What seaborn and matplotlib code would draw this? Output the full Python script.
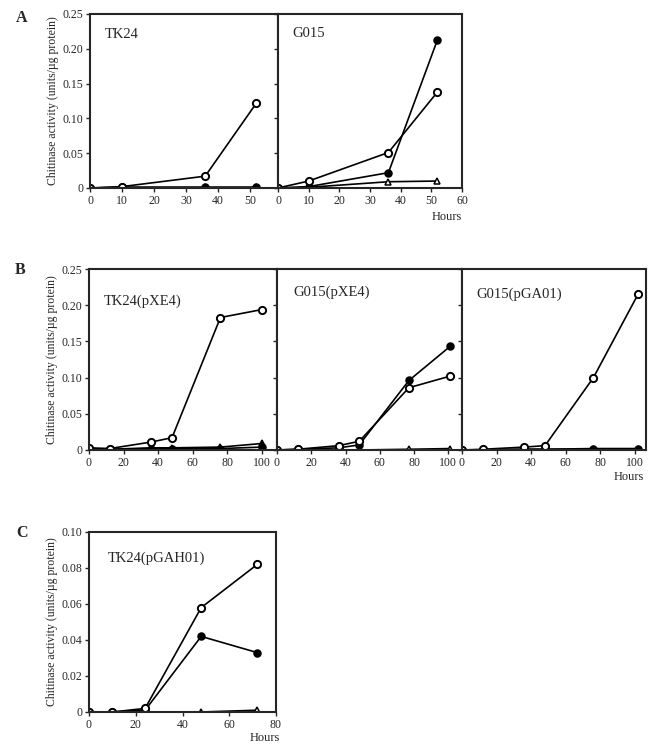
import pandas as pd
import seaborn as sns
from matplotlib import pyplot as plt
from matplotlib.ticker import FuncFormatter

# panel A
hours_a = [0, 10, 36, 52]
tk24_open = [0, 0.002, 0.017, 0.122]
tk24_filled = [0, 0.001, 0.001, 0.001]
tk24_tri = [0, 0.001, 0.001, 0.001]
g015_open = [0, 0.010, 0.051, 0.138]
g015_filled = [0, 0.002, 0.022, 0.213]
g015_tri = [0, 0.001, 0.009, 0.010]

# panel B
hours_b = [0, 12, 36, 48, 76, 100]
tk24x_open = [0.003, 0.002, 0.011, 0.017, 0.183, 0.194]
tk24x_filled = [0.001, 0.001, 0.002, 0.002, 0.002, 0.004]
tk24x_tri = [0.002, 0.001, 0.003, 0.003, 0.004, 0.009]
hours_b2 = [0, 12, 36, 48, 77, 101]
g015x_open = [0, 0.001, 0.006, 0.012, 0.086, 0.102]
g015x_filled = [0, 0.001, 0.003, 0.007, 0.096, 0.143]
g015x_tri = [0, 0, 0, 0, 0.001, 0.002]
hours_b3 = [0, 12, 36, 48, 76, 102]
g015ga_open = [0, 0.001, 0.004, 0.006, 0.100, 0.216]
g015ga_filled = [0, 0, 0.001, 0.001, 0.001, 0.001]
g015ga_tri = [0, 0, 0.001, 0.001, 0.002, 0.002]

# panel C
hours_c = [0, 10, 24, 48, 72]
tk24g_open = [0, 0, 0.002, 0.058, 0.082]
tk24g_filled = [0, 0, 0.001, 0.042, 0.033]
tk24g_tri = [0, 0, 0, 0, 0.001]

sns.set_style('ticks')
plt.rcParams['font.family'] = ['Liberation Serif', 'DejaVu Serif']

W, H = 648, 744
fig = plt.figure(figsize=(W / 100, H / 100), dpi=100)


def make_ax(x0, x1, y0, y1):
    # pixel box -> figure fraction
    return fig.add_axes([x0 / W, 1 - y1 / H, (x1 - x0) / W, (y1 - y0) / H])


def yfmt(v, pos):
    return '0' if abs(v) < 1e-9 else '%.2f' % v


def draw(ax, hours, tri, filled, opn, tri_fill='white'):
    df = pd.DataFrame({'h': hours, 'tri': tri, 'filled': filled, 'open': opn})
    sns.lineplot(data=df, x='h', y='tri', ax=ax, color='k', lw=1.2, marker='^',
                 markersize=5, markerfacecolor=tri_fill, markeredgecolor='k', markeredgewidth=1.1)
    sns.lineplot(data=df, x='h', y='filled', ax=ax, color='k', lw=1.2, marker='o',
                 markersize=5, markerfacecolor='k', markeredgecolor='k', markeredgewidth=1.1)
    sns.lineplot(data=df, x='h', y='open', ax=ax, color='k', lw=1.2, marker='o',
                 markersize=5.2, markerfacecolor='white', markeredgecolor='k', markeredgewidth=1.4)


def style(ax, xlim, xticks, ylim, yticks, label, lx, ly, first):
    ax.set_xlim(*xlim)
    ax.set_ylim(*ylim)
    ax.set_xticks(xticks)
    ax.set_yticks(yticks)
    ax.yaxis.set_major_formatter(FuncFormatter(yfmt))
    ax.tick_params(labelsize=8.5, length=3, width=1, direction='out', pad=2)
    for s in ax.spines.values():
        s.set_linewidth(1.5)
        s.set_visible(True)
    ax.set_xlabel('')
    ax.set_ylabel('')
    if first:
        ax.set_ylabel('Chitinase activity (units/µg protein)', fontsize=8.5, labelpad=2)
    else:
        ax.set_yticklabels([])
    ax.text(lx, ly, label, transform=ax.transAxes, fontsize=10.5, va='center', ha='left')


yt25 = [0, 0.05, 0.10, 0.15, 0.20, 0.25]

# row A
a1 = make_ax(90, 278, 14, 188)
draw(a1, hours_a, tk24_tri, tk24_filled, tk24_open, tri_fill='k')
style(a1, (0, 58.75), [0, 10, 20, 30, 40, 50], (0, 0.25), yt25, 'TK24', 0.08, 0.88, True)
a2 = make_ax(278, 462, 14, 188)
draw(a2, hours_a, g015_tri, g015_filled, g015_open)
style(a2, (0, 60), [0, 10, 20, 30, 40, 50, 60], (0, 0.25), yt25, 'G015', 0.076, 0.89, False)
a2.text(1.0, -0.135, 'Hours', transform=a2.transAxes, ha='right', va='top', fontsize=9)

# row B
b1 = make_ax(89, 277, 269, 450)
draw(b1, hours_b, tk24x_tri, tk24x_filled, tk24x_open, tri_fill='k')
style(b1, (0, 108.7), [0, 20, 40, 60, 80, 100], (0, 0.25), yt25, 'TK24(pXE4)', 0.08, 0.82, True)
b2 = make_ax(277, 462, 269, 450)
draw(b2, hours_b2, g015x_tri, g015x_filled, g015x_open)
style(b2, (0, 108), [0, 20, 40, 60, 80, 100], (0, 0.25), yt25, 'G015(pXE4)', 0.086, 0.87, False)
b3 = make_ax(462, 646, 269, 450)
draw(b3, hours_b3, g015ga_tri, g015ga_filled, g015ga_open, tri_fill='k')
style(b3, (0, 106.4), [0, 20, 40, 60, 80, 100], (0, 0.25), yt25, 'G015(pGA01)', 0.08, 0.86, False)
b3.text(0.99, -0.115, 'Hours', transform=b3.transAxes, ha='right', va='top', fontsize=9)

# row C
c1 = make_ax(89, 276, 532, 712)
draw(c1, hours_c, tk24g_tri, tk24g_filled, tk24g_open)
style(c1, (0, 80), [0, 20, 40, 60, 80], (0, 0.10), [0, 0.02, 0.04, 0.06, 0.08, 0.10],
      'TK24(pGAH01)', 0.10, 0.856, True)
c1.text(1.02, -0.11, 'Hours', transform=c1.transAxes, ha='right', va='top', fontsize=9)

# panel letters
for letter, px, py in [('A', 22, 18), ('B', 20, 270), ('C', 22, 533)]:
    fig.text(px / W, 1 - py / H, letter, fontsize=11.5, fontweight='bold', ha='center', va='center')

fig.savefig('out.png', dpi=100)
